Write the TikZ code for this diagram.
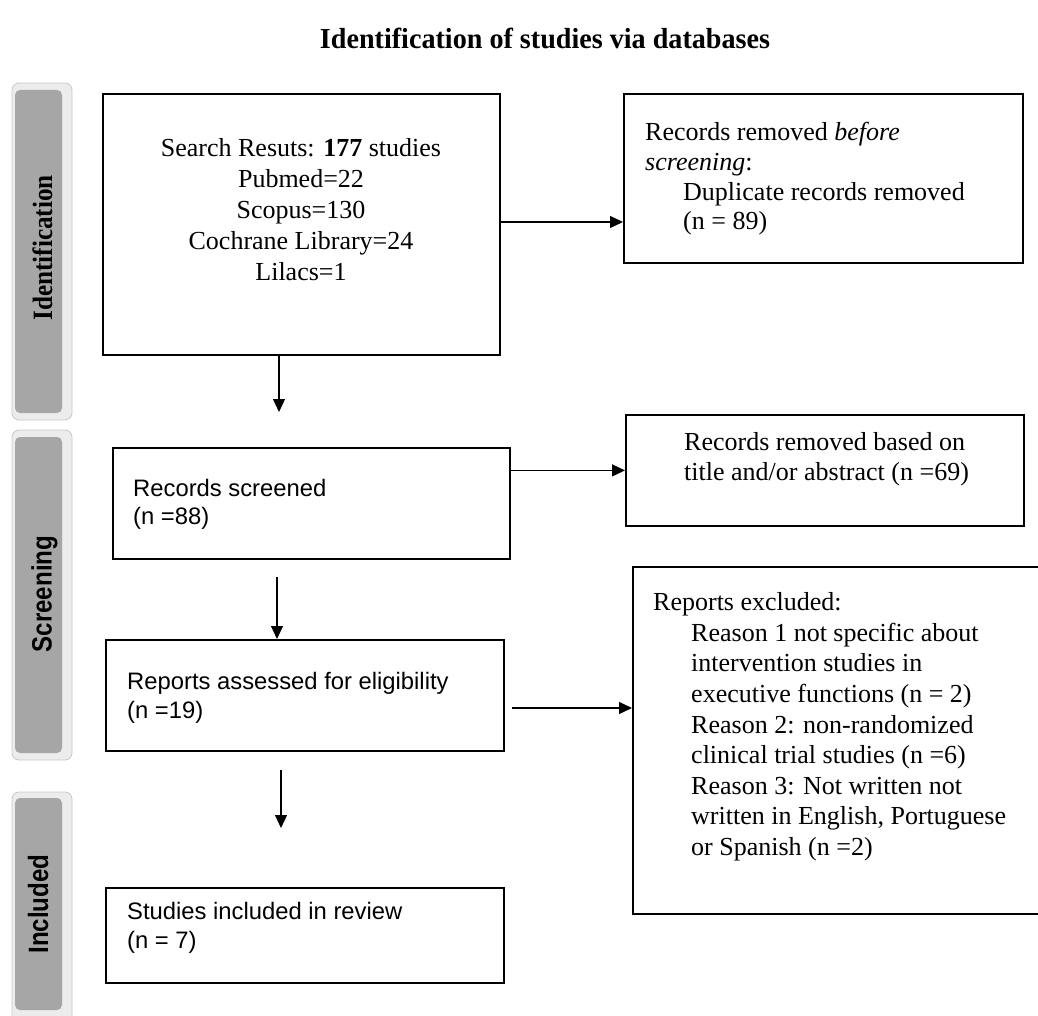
\documentclass[tikz,border=0pt]{standalone}
\usepackage{fontspec}
\setmainfont{Liberation Serif}
\setsansfont{Liberation Sans}
\usetikzlibrary{arrows.meta}
\definecolor{sidegray}{RGB}{166,166,166}
\definecolor{sideedge}{RGB}{236,236,236}
\definecolor{sideline}{RGB}{200,200,200}
\begin{document}
\begin{tikzpicture}[x=1pt,y=-1pt,
  box/.style={draw=black, line width=1.8pt, fill=white, inner sep=0pt, anchor=north west},
  serif/.style={font=\fontsize{26}{30.6}\selectfont, inner sep=0pt, align=left},
  sans/.style={font=\sffamily\fontsize{23.8}{28.5}\selectfont, inner sep=0pt, align=left},
  arr/.style={line width=1.2pt, -{Triangle[length=13pt,width=12pt]}},
  sideouter/.style={fill=sideedge, draw=sideline, line width=0.8pt, rounded corners=7pt},
  sideinner/.style={fill=sidegray, rounded corners=5pt},
  sidelab/.style={rotate=90, inner sep=0pt}
]
\clip (0,0) rectangle (1038,1016);
\useasboundingbox (0,0) rectangle (1038,1016);

% title
\node[font=\bfseries\fontsize{29}{32}\selectfont, inner sep=0pt] (title) at (545,38) {\scalebox{0.97}[1]{Identification of studies via databases}};

% side bars
\draw[sideouter] (12,83) rectangle (72,420);
\fill[sideinner] (15,90) rectangle (62,413);
\node[sidelab, font=\bfseries\fontsize{28}{30}\selectfont] (lid) at (42.5,248) {\scalebox{0.9}[1]{Identification}};

\draw[sideouter] (12,430) rectangle (72,760);
\fill[sideinner] (15,437) rectangle (62,753);
\node[sidelab, font=\sffamily\bfseries\fontsize{28}{30}\selectfont] (lsc) at (44.5,594) {\scalebox{0.86}[1]{Screening}};

\draw[sideouter] (12,792) rectangle (72,1030);
\fill[sideinner] (15,798) rectangle (62,1010);
\node[sidelab, font=\sffamily\bfseries\fontsize{28}{30}\selectfont] (lin) at (38,904) {\scalebox{0.86}[1]{Included}};

% boxes
\node[box, minimum width=397pt, minimum height=261pt] (search) at (102,93) {};
\node[box, minimum width=399pt, minimum height=169pt] (dup) at (623,93) {};
\node[box, minimum width=397pt, minimum height=111pt] (screened) at (112,447) {};
\node[box, minimum width=398pt, minimum height=111pt] (tiab) at (625,414) {};
\node[box, minimum width=398pt, minimum height=111pt] (assessed) at (105,639) {};
\node[box, minimum width=413pt, minimum height=347pt] (excl) at (632,566) {};
\node[box, minimum width=398pt, minimum height=95pt] (incl) at (105,887) {};

% texts
\node[serif, align=center, font=\fontsize{26}{31}\selectfont] (searchtxt) at (301,212.5)
  {\strut Search Resuts: \textbf{177} studies\\Pubmed=22\\Scopus=130\\Cochrane Library=24\\Lilacs=1\strut};
\node[serif, anchor=west, font=\fontsize{26}{29.7}\selectfont] (duptxt) at (645,179.5)
  {\strut Records removed \textit{before}\\\textit{screening}:\\\hspace*{38pt}Duplicate records removed\\\hspace*{38pt}(n = 89)\strut};
\node[serif, anchor=west] (tiabtxt) at (684,459.5)
  {\strut Records removed based on\\title and/or abstract (n =69)\strut};
\node[serif, anchor=west] (excltxt) at (653,727)
  {\strut Reports excluded:\\
   \hspace*{38pt}Reason 1 not specific about\\
   \hspace*{38pt}intervention studies in\\
   \hspace*{38pt}executive functions (n = 2)\\
   \hspace*{38pt}Reason 2: non-randomized\\
   \hspace*{38pt}clinical trial studies (n =6)\\
   \hspace*{38pt}Reason 3: Not written not\\
   \hspace*{38pt}written in English, Portuguese\\
   \hspace*{38pt}or Spanish (n =2)\strut};
\node[sans, anchor=west] (screenedtxt) at (133,505) {\strut Records screened\\(n =88)\strut};
\node[sans, anchor=west] (assessedtxt) at (127,698.5) {\strut Reports assessed for eligibility\\(n =19)\strut};
\node[sans, anchor=west] (incltxt) at (127,928.5) {\strut Studies included in review\\(n = 7)\strut};

% connectors
\coordinate (y222) at (0,222);
\coordinate (a1) at (279,412);
\coordinate (d0) at (277,577);
\coordinate (e0) at (512,708);
\coordinate (f0) at (281,770);
\coordinate (f1) at (281,828);
\draw[arr] (search.east |- y222) -- (dup.west |- y222);
\draw[arr] (search.south -| a1) -- (a1);
\draw[arr] (screened.east |- tiab.west) -- (tiab.west);
\draw[arr] (d0) -- (d0 |- assessed.north);
\draw[arr] (e0) -- (e0 -| excl.west);
\draw[arr] (f0) -- (f1);
\end{tikzpicture}
\end{document}
